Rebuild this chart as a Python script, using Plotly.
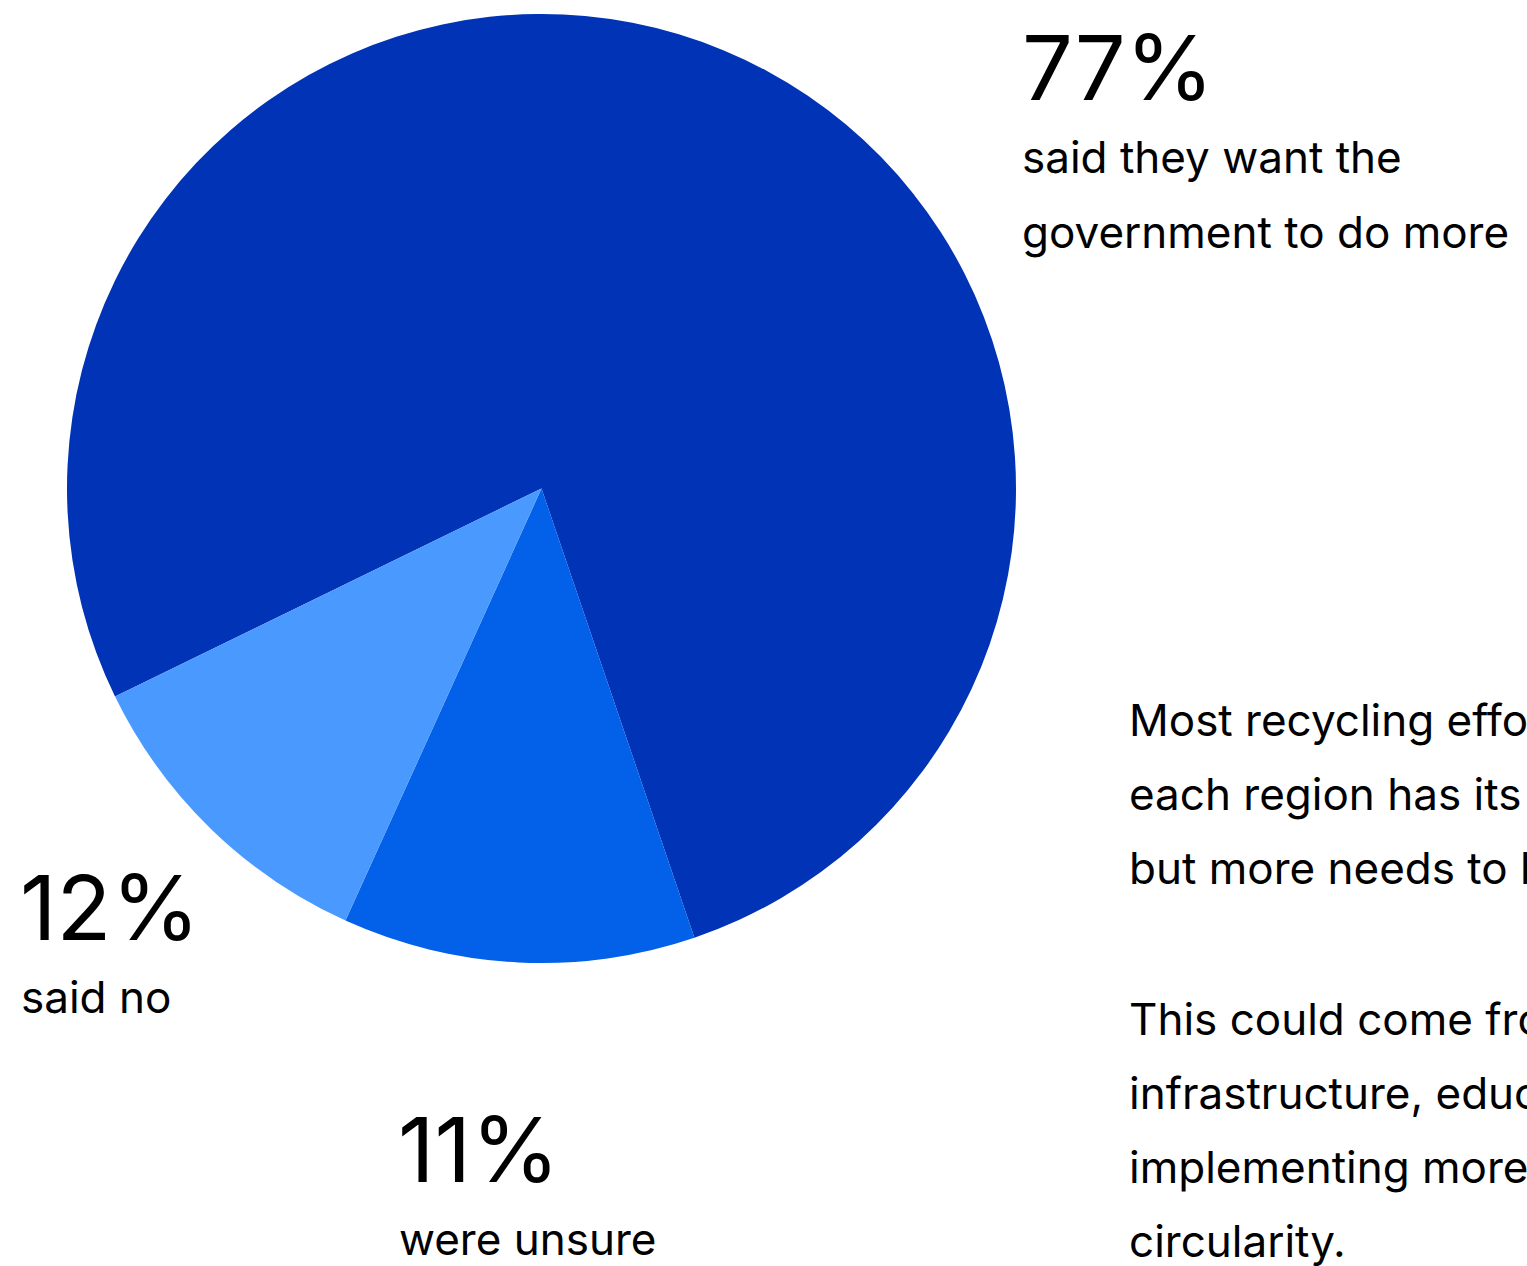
import plotly.graph_objects as go

W, H = 1527, 1266

# Data
categories = ["Want the government to do more", "Were unsure", "Said no"]
values = [77, 12, 11]
colors = ["#0033B5", "#0360E8", "#4A99FF"]

stat_numbers = ["77%", "12%", "11%"]
stat_captions = [["said they want the", "government to do more"], ["said no"], ["were unsure"]]

paragraph_lines = [
    "Most recycling efforts are run locally, and",
    "each region has its own approach,",
    "but more needs to be done.",
    "This could come from investing in",
    "infrastructure, education and",
    "implementing more policies that drive",
    "circularity.",
]

FONT = "Inter, 'Noto Sans', sans-serif"
BIG = 90
BODY = 44

fig = go.Figure(
    go.Pie(
        labels=categories,
        values=values,
        sort=False,
        direction="clockwise",
        rotation=244,
        marker=dict(colors=colors, line=dict(width=0)),
        textinfo="none",
        hoverinfo="label+percent",
        showlegend=False,
        domain=dict(x=[67 / W, 1016 / W], y=[1 - 963 / H, 1 - 14 / H]),
    )
)

annotations = []


def add(text, px, baseline, size):
    cy = baseline - 0.364 * size
    annotations.append(
        dict(
            text=text,
            x=px / W,
            y=1 - cy / H,
            xref="paper",
            yref="paper",
            xanchor="left",
            yanchor="middle",
            showarrow=False,
            font=dict(family=FONT, size=size, color="#000000"),
            align="left",
        )
    )


# 77%
add(stat_numbers[0], 1020, 100, BIG)
add(stat_captions[0][0], 1020, 173, BODY)
add(stat_captions[0][1], 1020, 248, BODY)
# 12%
add(stat_numbers[1], 18, 940, BIG)
add(stat_captions[1][0], 19, 1013, BODY)
# 11%
add(stat_numbers[2], 396, 1182, BIG)
add(stat_captions[2][0], 397, 1255, BODY)

# paragraph
base = [736, 810, 884, 1035, 1109, 1183, 1257]
for line, b in zip(paragraph_lines, base):
    add(line, 1127, b, BODY)

fig.update_layout(
    width=W,
    height=H,
    margin=dict(l=0, r=0, t=0, b=0),
    paper_bgcolor="white",
    plot_bgcolor="white",
    annotations=annotations,
    showlegend=False,
)

fig.write_html("out.html")
